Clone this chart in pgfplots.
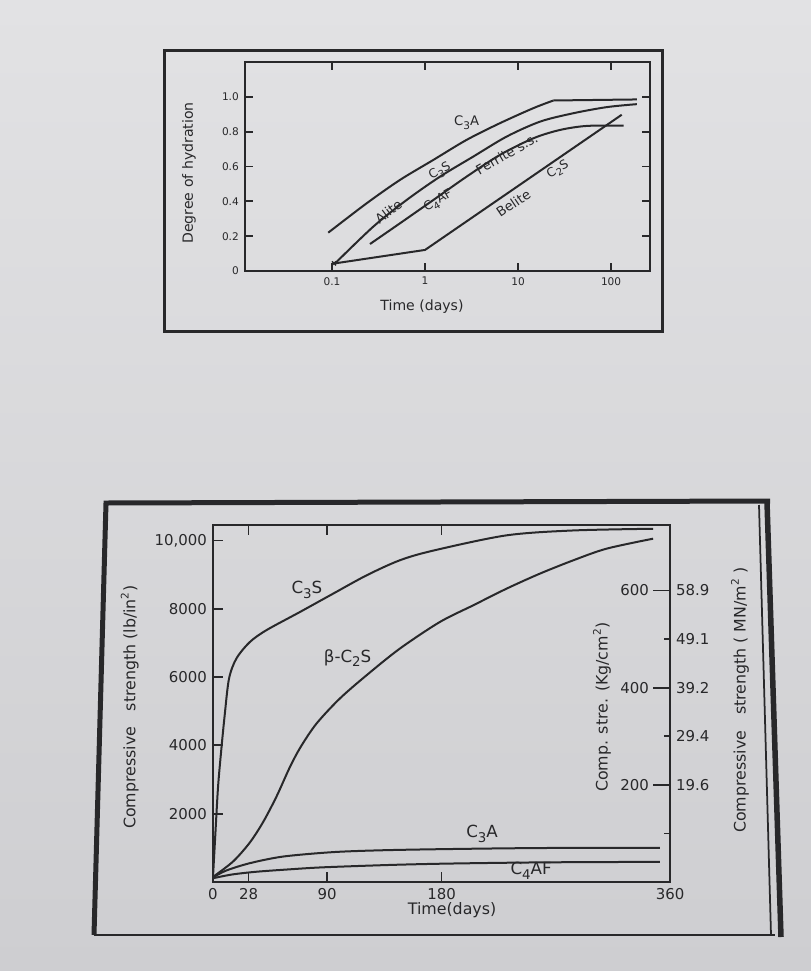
\documentclass[border=0pt]{standalone}
\usepackage{fontspec}
\setmainfont{DejaVu Sans}
\usepackage{pgfplots}
\pgfplotsset{compat=1.18}

\definecolor{paperlight}{RGB}{226,226,228}
\definecolor{paperdark}{RGB}{206,206,209}
\definecolor{ink}{RGB}{40,40,42}

\newcommand{\sub}[1]{\raisebox{-0.5ex}{\scalebox{0.8}{#1}}}
\newcommand{\fs}[1]{\fontsize{#1}{#1}\selectfont}

\pgfplotsset{
  oldplot/.style={
    scale only axis, clip=false,
    tick align=inside,
    axis line style={ink, line width=0.4mm},
    every tick/.style={ink, line width=0.35mm},
    tick label style={ink},
    label style={ink},
    scaled ticks=false,
  },
  curve/.style={ink, line width=0.4mm, no marks},
}

\begin{document}
\begin{tikzpicture}[x=0.2mm, y=-0.2mm]
\path[use as bounding box] (0,0) rectangle (811,971);
\shade[top color=paperlight, bottom color=paperdark] (0,0) rectangle (811,971);
\coordinate (topSW) at (245,271);
\coordinate (botSW) at (213,882);

% frames round the two figures
\draw[ink, line width=0.6mm] (164,50) rectangle (662,331);
\draw[ink, line width=1mm] (94,935) -- (106,503) -- (770,501);
\draw[ink, line width=0.35mm] (94,935) -- (775,935);
\draw[ink, line width=0.35mm] (759,505) -- (771,935);
\draw[ink, line width=1.1mm] (767,502) -- (781,937);

% ---- top: degree of hydration ----
\begin{axis}[oldplot,
  at={(topSW)}, anchor=south west, width=81mm, height=41.8mm,
  xmode=log, xmin=0.0116, xmax=262, ymin=0, ymax=1.2,
  xtick={0.1,1,10,100}, xticklabels={0.1,1,10,100}, xminorticks=false,
  ytick={0,0.2,0.4,0.6,0.8,1.0}, yticklabels={0,0.2,0.4,0.6,0.8,1.0},
  major tick length=1.6mm,
  tick label style={font=\fs{6}},
  xlabel={Time (days)}, ylabel={Degree of hydration},
  xlabel style={font=\fs{8}, at={(axis description cs:0.437,-0.172)}, anchor=center},
  ylabel style={font=\fs{8}, at={(axis description cs:-0.138,0.469)}, anchor=center},
]
% C3A
\addplot[curve, smooth] coordinates {
  (0.091,0.22) (0.236,0.389) (0.538,0.523) (1.23,0.638) (2.8,0.753)
  (6.4,0.849) (14.6,0.935) (24,0.979)};
\addplot[curve] coordinates {(24,0.979) (189,0.985)};
% Alite
\addplot[curve, smooth] coordinates {
  (0.108,0.044) (0.278,0.255) (0.635,0.408) (1.45,0.542) (3.3,0.657)
  (7.55,0.772) (17.3,0.858) (39.4,0.906) (90,0.941) (189,0.958)};
% Ferrite
\addplot[curve, smooth] coordinates {
  (0.256,0.155) (0.538,0.274) (1.23,0.408) (2.8,0.542) (6.4,0.667)
  (14.6,0.762) (28.3,0.81) (54.8,0.833) (136,0.835)};
% Belite
\addplot[curve] coordinates {(0.108,0.044) (1.0,0.121) (130,0.897)};
% start point
\addplot[ink, only marks, mark=x, mark size=1.6pt, line width=0.3mm] coordinates {(0.105,0.044)};

\node[ink, font=\fs{7.5}] at (axis cs:2.8,0.85) {C\sub{3}A};
\node[ink, font=\fs{7.5}, rotate=37] at (axis cs:0.404,0.341) {Alite};
\node[ink, font=\fs{7}, rotate=30] at (axis cs:1.45,0.57) {C\sub{3}S};
\node[ink, font=\fs{7}, rotate=30] at (axis cs:1.39,0.40) {C\sub{4}AF};
\node[ink, font=\fs{7.5}, rotate=30] at (axis cs:7.55,0.672) {Ferrite s.s.};
\node[ink, font=\fs{7.5}, rotate=34] at (axis cs:8.9,0.389) {Belite};
\node[ink, font=\fs{7}, rotate=30] at (axis cs:26.9,0.58) {C\sub{2}S};
\end{axis}

% ---- bottom: compressive strength ----
\begin{axis}[oldplot,
  at={(botSW)}, anchor=south west, width=91.4mm, height=71.4mm,
  xmin=0, xmax=360, ymin=0, ymax=10450,
  xtick={0,28,90,180,360}, xticklabels={0,28,90,180,360},
  xtick pos=both, xticklabel pos=lower,
  ytick={2000,4000,6000,8000,10000}, yticklabels={2000,4000,6000,8000,{10,000}},
  ytick pos=left,
  major tick length=2mm,
  tick label style={font=\fs{8.5}},
  xlabel={Time(days)},
  ylabel={Compressive\quad strength (lb/in\textsuperscript{2})},
  xlabel style={font=\fs{9}, at={(axis description cs:0.523,-0.078)}, anchor=center},
  ylabel style={font=\fs{9}, at={(axis description cs:-0.182,0.49)}, anchor=center},
]
% C3S
\addplot[curve, smooth, tension=0.5] coordinates {
  (0,150) (2,1500) (4,2800) (6.6,3900) (9.2,4880) (12.6,5950) (18.4,6540)
  (28.9,7020) (42,7370) (68.3,7900) (94.6,8440) (120.9,8975) (147,9415)
  (173.4,9700) (231,10146) (283.7,10290) (346.7,10340)};
% beta-C2S
\addplot[curve, smooth] coordinates {
  (0,150) (15.8,600) (28.9,1150) (39.4,1750) (50,2500) (60.4,3350)
  (69,3950) (81.5,4636) (99.8,5367) (120.9,6050) (147.1,6830)
  (178.6,7609) (204.9,8098) (231.2,8586) (257.4,9025) (283.7,9415)
  (310,9757) (346.7,10050)};
% C3A
\addplot[curve, smooth] coordinates {
  (0,130) (10,330) (28.9,550) (55.2,745) (94.6,875) (134,930) (186.5,965)
  (260,995) (352,1000)};
% C4AF
\addplot[curve, smooth] coordinates {
  (0,110) (15,220) (34,300) (60,370) (86.7,430) (140,500) (186.5,540)
  (260,575) (352,590)};

\node[ink, font=\fs{9.5}] at (axis cs:74,8546) {C\sub{3}S};
\node[ink, font=\fs{9.5}] at (axis cs:106,6555) {β-C\sub{2}S};
\node[ink, font=\fs{9.5}] at (axis cs:212,1405) {C\sub{3}A};
\node[ink, font=\fs{9.5}] at (axis cs:250.6,322) {C\sub{4}AF};
\node[ink, font=\fs{9}, rotate=90] at (axis description cs:0.851,0.49)
  {Comp. stre. (Kg/cm\textsuperscript{2})};
\node[ink, font=\fs{9}, rotate=90] at (axis description cs:1.153,0.51)
  {Compressive\quad strength ( MN/m\textsuperscript{2} )};
\end{axis}

% right scale in MN/m2
\begin{axis}[oldplot,
  at={(botSW)}, anchor=south west, width=91.4mm, height=71.4mm,
  xmin=0, xmax=360, ymin=0, ymax=10450,
  axis x line=none, axis y line*=right, axis line style={draw=none},
  ytick={1422.3,2844.7,4267,5689.3,7111.7,8534},
  yticklabels={,19.6,29.4,39.2,49.1,58.9},
  major tick length=1.2mm,
  tick label style={font=\fs{8.5}},
]
\end{axis}

% right scale in kg/cm2
\begin{axis}[oldplot,
  at={(botSW)}, anchor=south west, width=91.4mm, height=71.4mm,
  xmin=0, xmax=360, ymin=0, ymax=10450,
  axis x line=none, axis y line*=right, axis line style={draw=none},
  ytick={2844.7,5689.3,8534},
  yticklabels={200,400,600},
  major tick length=3.4mm,
  tick label style={font=\fs{8.5}},
  yticklabel style={anchor=east, xshift=-3.0mm},
]
\end{axis}
\end{tikzpicture}
\end{document}
